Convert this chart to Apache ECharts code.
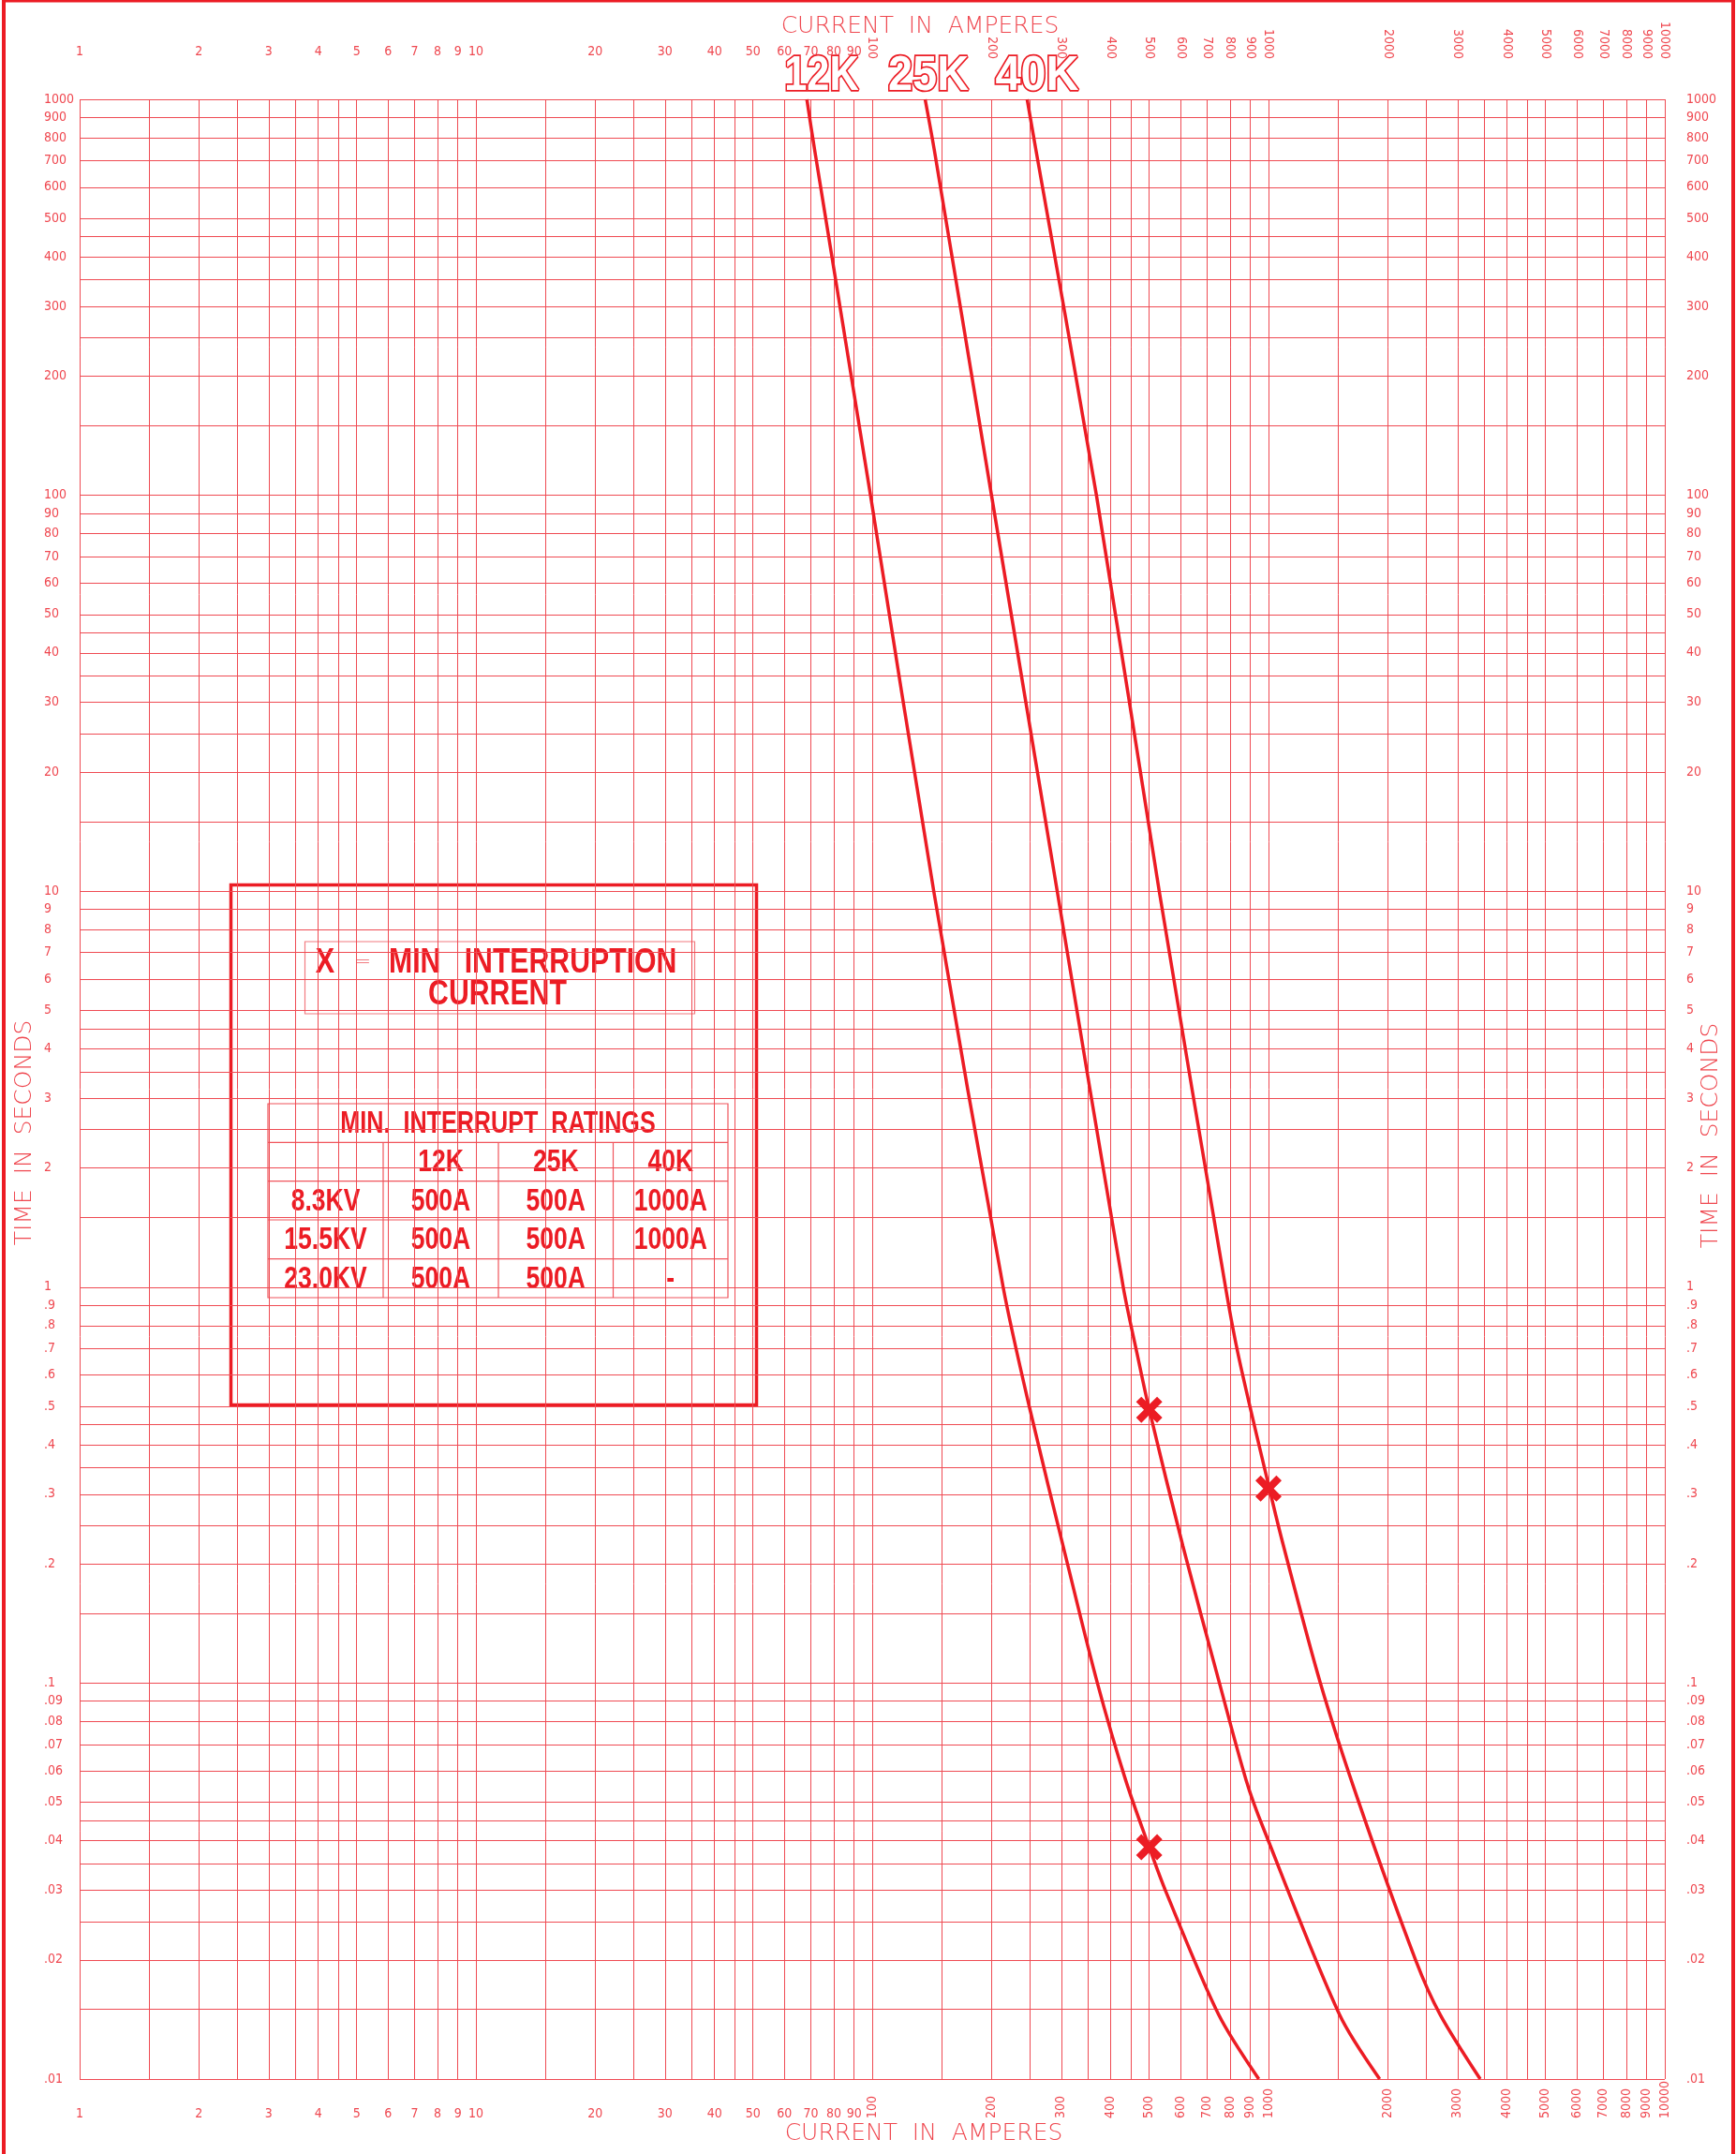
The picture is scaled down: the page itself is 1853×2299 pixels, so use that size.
<!DOCTYPE html>
<html><head><meta charset="utf-8">
<script src="https://cdn.jsdelivr.net/npm/echarts@6/dist/echarts.min.js"></script>
<style>html,body{margin:0;padding:0;background:#fff}#c{width:1853px;height:2299px}</style>
</head><body><div id="c"></div>
<script>
// ---- data (current in amperes, time in seconds) ----
const curve12K = [[68.4,1000],[71.6,743],[99,100],[143,10],[214,1],[249,0.5],[311,0.2],[370,0.1],[436,0.0569],[500,0.0385],[552,0.0296],[748,0.01456],[945,0.01]];
const curve25K = [[136,1000],[143.5,743],[200,100],[293,10],[430,1],[469,0.659],[500,0.491],[608,0.222],[752,0.1],[878,0.0569],[968,0.0433],[1510,0.01456],[1908,0.01]];
const curve40K = [[246,1000],[259,743],[368,100],[530,10],[779,1],[843,0.659],[1005,0.31],[1091,0.222],[1352,0.1],[1690,0.05],[2350,0.02],[2710,0.01456],[3422,0.01]];
const minInterrupt = [[500,0.0385],[500,0.49],[1000,0.31]];
const curveNames = ['12K','25K','40K'];

const xLabelsFlat = [1,2,3,4,5,6,7,8,9,10,20,30,40,50,60,70,80,90];
const xLabelsRot = [100,200,300,400,500,600,700,800,900,1000,2000,3000,4000,5000,6000,7000,8000,9000,10000];
const yLabels = ['.01','.02','.03','.04','.05','.06','.07','.08','.09','.1','.2','.3','.4','.5','.6','.7','.8','.9',
  '1','2','3','4','5','6','7','8','9','10','20','30','40','50','60','70','80','90','100','200','300','400','500','600','700','800','900','1000'];
const gridMantissas = [1,1.5,2,2.5,3,3.5,4,4.5,5,6,7,8,9];
const xDecades = [1,10,100,1000];
const yDecades = [0.01,0.1,1,10,100];

const legendKey = ['X', '=', 'MIN   INTERRUPTION', 'CURRENT'];
const tableHead = 'MIN.  INTERRUPT  RATINGS';
const tableCols = ['', '12K', '25K', '40K'];
const tableRows = [
  ['8.3KV','500A','500A','1000A'],
  ['15.5KV','500A','500A','1000A'],
  ['23.0KV','500A','500A','-']
];

// ---- styling ----
const RED = '#ec1c24';
const GRID = '#ef4b53';
const LBL = '#ef4850';
const COND = '"DejaVu Sans Condensed","DejaVu Sans",sans-serif';
const BOLD = '"Liberation Sans",Arial,sans-serif';
const THIN = '"DejaVu Sans","Liberation Sans",sans-serif';

const xGrid = [];
xDecades.forEach(d => gridMantissas.forEach(m => xGrid.push(+(d*m).toPrecision(6))));
xGrid.push(10000);
const yGrid = [];
yDecades.forEach(d => gridMantissas.forEach(m => yGrid.push(+(d*m).toPrecision(6))));
yGrid.push(1000);
const yLabelVals = yLabels.map(parseFloat);

function fmt(v) {
  if (v >= 1) return String(Math.round(v));
  return String(+v.toPrecision(2)).replace(/^0/, '');
}
const lblBase = {fontFamily: COND, fontSize: 14, color: LBL, formatter: fmt, showMinLabel: true, showMaxLabel: true};

function xAx(position, labels, rot, grid) {
  const o = {
    type: 'log', logBase: 10, min: 1, max: 10000, gridIndex: 0, position: position,
    axisLine: {show: false}, axisTick: {show: false, customValues: grid ? xGrid : labels},
    splitLine: {show: !!grid, lineStyle: {color: GRID, width: 1}},
    axisLabel: Object.assign({}, lblBase, {customValues: labels, margin: rot ? (position === 'top' ? 43 : 42) : (position === 'top' ? 44 : 30)})
  };
  if (rot) {
    o.axisLabel.rotate = 90;
    o.axisLabel.verticalAlign = 'middle';
    if (position === 'bottom') o.axisLabel.align = 'left';
  }
  return o;
}
function yAx(position, grid) {
  return {
    type: 'log', logBase: 10, min: 0.01, max: 1000, gridIndex: 0, position: position,
    axisLine: {show: false}, axisTick: {show: false, customValues: grid ? yGrid : yLabelVals},
    splitLine: {show: !!grid, lineStyle: {color: GRID, width: 1}},
    axisLabel: Object.assign({}, lblBase, {customValues: yLabelVals, align: 'left', margin: position === 'left' ? 38 : 23})
  };
}

const curveSeries = [curve12K, curve25K, curve40K].map((d, i) => ({
  type: 'line', name: curveNames[i], data: d, smooth: 0.3, showSymbol: false, symbol: 'none',
  lineStyle: {color: RED, width: 3.5}, z: 5, animation: false
}));

const xMark = 'path://M4,0 L10,6 L16,0 L20,4 L14,10 L20,16 L16,20 L10,14 L4,20 L0,16 L6,10 L0,4 Z';

function txt(t, x, y, font, fill, sx, extra) {
  return {type: 'text', x: x, y: y, scaleX: sx || 1,
    style: Object.assign({text: t, x: 0, y: 0, align: 'center', verticalAlign: 'middle', font: font, fill: fill}, extra || {})};
}

// legend / table graphic
const tX = [286, 409, 532, 654.5, 777];
const tY = [1178, 1219.3, 1260.7, 1302, 1343.6, 1385];
const tFont = 'bold 34px ' + BOLD;
const TLINE = '#f0555c';
const legendEls = [
  {type: 'rect', shape: {x: 246.5, y: 944.5, width: 561, height: 555}, style: {fill: '#fff', stroke: RED, lineWidth: 3.5}},
  {type: 'rect', shape: {x: 325.5, y: 1005, width: 416, height: 77}, style: {fill: 'none', stroke: '#f27b80', lineWidth: 1.2}},
  txt(legendKey[0], 347, 1028, 'bold 36px ' + BOLD, RED, 0.85),
  txt(legendKey[1], 387, 1027, '200 22px ' + THIN, '#f27b80', 1),
  txt(legendKey[2], 415, 1028, 'bold 36px ' + BOLD, RED, 0.84, {align: 'left'}),
  txt(legendKey[3], 531, 1062, 'bold 36px ' + BOLD, RED, 0.84),
  {type: 'rect', shape: {x: tX[0], y: tY[0], width: tX[4] - tX[0], height: tY[5] - tY[0]}, style: {fill: 'none', stroke: TLINE, lineWidth: 1.2}}
];
for (let r = 1; r < 5; r++) legendEls.push({type: 'line', shape: {x1: tX[0], y1: tY[r], x2: tX[4], y2: tY[r]}, style: {stroke: TLINE, lineWidth: 1.2}});
for (let c = 1; c < 4; c++) legendEls.push({type: 'line', shape: {x1: tX[c], y1: tY[1], x2: tX[c], y2: tY[5]}, style: {stroke: TLINE, lineWidth: 1.2}});
legendEls.push(txt(tableHead, (tX[0] + tX[4]) / 2, (tY[0] + tY[1]) / 2 + 1, tFont, RED, 0.74));
[tableCols].concat(tableRows).forEach((row, r) => row.forEach((s, c) => {
  if (!s) return;
  legendEls.push(txt(s, (tX[c] + tX[c + 1]) / 2, (tY[r + 1] + tY[r + 2]) / 2 + 1, tFont, RED, 0.78));
}));

const bigFont = 'bold 51px ' + BOLD;
const titleEls = [
  {type: 'rect', shape: {x: 4, y: 0.5, width: 1846, height: 2302}, style: {fill: 'none', stroke: RED, lineWidth: 4}},
  txt('CURRENT  IN  AMPERES', 982, 28, '200 25px ' + THIN, LBL, 1),
  txt('CURRENT  IN  AMPERES', 986, 2277, '200 25px ' + THIN, LBL, 1),
  Object.assign(txt('TIME  IN  SECONDS', 26, 1209, '200 25px ' + THIN, LBL, 1), {rotation: Math.PI / 2}),
  Object.assign(txt('TIME  IN  SECONDS', 1826, 1212, '200 25px ' + THIN, LBL, 1), {rotation: Math.PI / 2}),
  txt(curveNames[0], 877, 82, bigFont, '#fff', 0.85, {stroke: RED, lineWidth: 3.5}),
  txt(curveNames[1], 991, 82, bigFont, '#fff', 0.92, {stroke: RED, lineWidth: 3.5}),
  txt(curveNames[2], 1107, 82, bigFont, '#fff', 0.95, {stroke: RED, lineWidth: 3.5})
];

const chart = echarts.init(document.getElementById('c'), null, {renderer: 'canvas'});
chart.setOption({
  animation: false,
  backgroundColor: '#fff',
  grid: {left: 85, right: 76, top: 106, bottom: 80, containLabel: false},
  xAxis: [xAx('bottom', xLabelsFlat, false, true), xAx('bottom', xLabelsRot, true, false), xAx('top', xLabelsFlat, false, false), xAx('top', xLabelsRot, true, false)],
  yAxis: [yAx('left', true), yAx('right', false)],
  series: curveSeries.concat([{
    type: 'scatter', data: minInterrupt, symbol: xMark, symbolSize: 28, itemStyle: {color: RED, opacity: 1}, z: 6, animation: false
  }]),
  graphic: {elements: [{type: 'group', z: 100, children: titleEls}, {type: 'group', z: 100, children: legendEls}]}
});
</script></body></html>
